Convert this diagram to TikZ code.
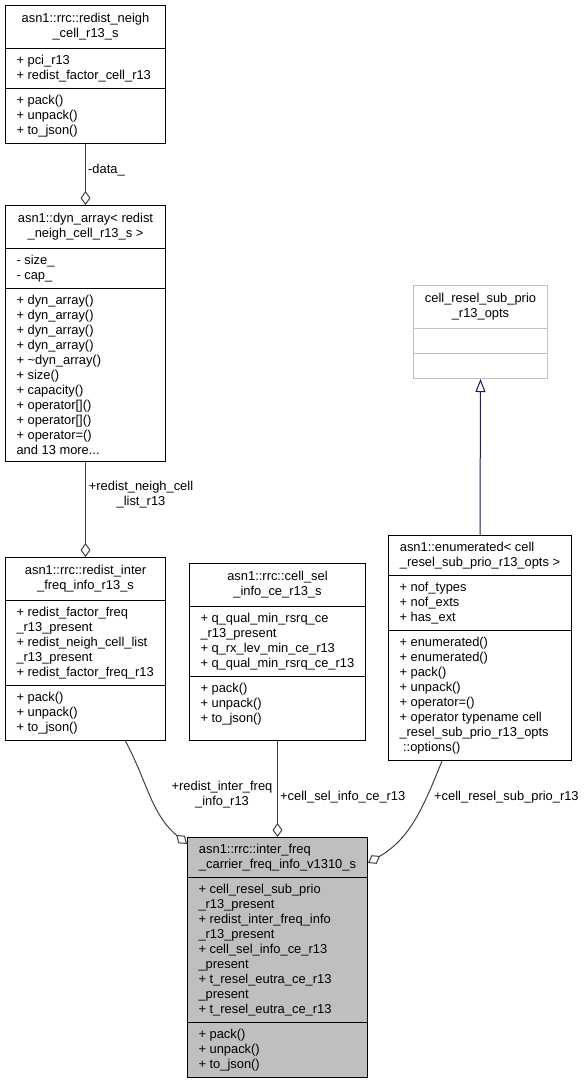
\documentclass[tikz,border=0pt]{standalone}
\usepackage{fontspec}
\setmainfont{Liberation Sans}
\usetikzlibrary{arrows.meta,shapes.multipart,calc}
\definecolor{edgegrey}{HTML}{404040}
\definecolor{inhblue}{HTML}{191970}
\definecolor{paleframe}{HTML}{BFBFBF}
\definecolor{focusfill}{HTML}{BFBFBF}
\newcommand{\cname}[1]{\begin{tabular}{@{}c@{}}#1\end{tabular}}

\begin{document}
\begin{tikzpicture}[x=1pt,y=-1pt,font=\fontsize{12.9}{15}\selectfont,
  cls/.style={draw,rectangle split,rectangle split parts=3,align=left,
    rectangle split part align={center,left,left},anchor=north west,
    inner xsep=11pt,inner ysep=6pt,line width=1pt},
  assoc/.style={draw=edgegrey,line width=1pt,-{Diamond[open,length=14pt,width=10pt]}},
  inh/.style={draw=inhblue,line width=1pt,-{Triangle[open,length=13pt,width=10pt]}},
  lbl/.style={align=center,inner sep=0pt}]
  \useasboundingbox (0,0) rectangle (585,1080);
  \node[cls,minimum width=160pt] (neigh) at (5,5) {\cname{asn1::rrc::redist\_neigh\\\_cell\_r13\_s}\nodepart{second}%
    + pci\_r13\\ + redist\_factor\_cell\_r13\nodepart{third}%
    + pack()\\ + unpack()\\ + to\_json()};
  \node[cls,minimum width=160pt] (dyn) at (5,205) {\cname{asn1::dyn\_array< redist\\\_neigh\_cell\_r13\_s >}\nodepart{second}%
    - size\_\\ - cap\_\nodepart{third}%
    + dyn\_array()\\ + dyn\_array()\\ + dyn\_array()\\ + dyn\_array()\\ + \textasciitilde dyn\_array()\\
    + size()\\ + capacity()\\ + operator[]()\\ + operator[]()\\ + operator=()\\ and 13 more...};
  \node[cls,minimum width=160pt] (redist) at (5,557) {\cname{asn1::rrc::redist\_inter\\\_freq\_info\_r13\_s}\nodepart{second}%
    + redist\_factor\_freq\\ \_r13\_present\\ + redist\_neigh\_cell\_list\\ \_r13\_present\\ + redist\_factor\_freq\_r13\nodepart{third}%
    + pack()\\ + unpack()\\ + to\_json()};
  \node[cls,minimum width=176pt] (cellsel) at (189,563) {\cname{asn1::rrc::cell\_sel\\\_info\_ce\_r13\_s}\nodepart{second}%
    + q\_qual\_min\_rsrq\_ce\\ \_r13\_present\\ + q\_rx\_lev\_min\_ce\_r13\\ + q\_qual\_min\_rsrq\_ce\_r13\nodepart{third}%
    + pack()\\ + unpack()\\ + to\_json()\rule[-12pt]{0pt}{1pt}};
  \node[cls,minimum width=134pt,draw=paleframe] (opts) at (413,285) {\cname{cell\_resel\_sub\_prio\\\_r13\_opts}\nodepart{second}%
    \rule{0pt}{12pt}\nodepart{third}\rule{0pt}{12pt}};
  \node[cls,minimum width=183pt] (enum) at (388,535) {asn1::enumerated< cell\\ \_resel\_sub\_prio\_r13\_opts >\nodepart{second}%
    + nof\_types\\ + nof\_exts\\ + has\_ext\nodepart{third}%
    + enumerated()\\ + enumerated()\\ + pack()\\ + unpack()\\ + operator=()\\ + operator typename cell\\
    \_resel\_sub\_prio\_r13\_opts\\ \ ::options()};
  \node[cls,minimum width=180pt,fill=focusfill] (carrier) at (187,837) {asn1::rrc::inter\_freq\\ \_carrier\_freq\_info\_v1310\_s\nodepart{second}%
    + cell\_resel\_sub\_prio\\ \_r13\_present\\ + redist\_inter\_freq\_info\\ \_r13\_present\\ + cell\_sel\_info\_ce\_r13\\ \_present\\
    + t\_resel\_eutra\_ce\_r13\\ \_present\\ + t\_resel\_eutra\_ce\_r13\nodepart{third}%
    + pack()\\ + unpack()\\ + to\_json()};
  % members
  \draw[assoc] (neigh.south) -- (dyn.north);
  \draw[assoc] (dyn.south) -- (redist.north);
  \draw[assoc] ([xshift=40]redist.south) to[out=-62,in=140] ([yshift=-7]carrier.north west);
  \draw[assoc] (cellsel.south) -- (carrier.north);
  \draw[assoc] ([xshift=-38]enum.south) to[out=-112,in=30] ([yshift=-26]carrier.north east);
  % inheritance
  \draw[inh] (enum.north) -- (opts.south);
  \node[lbl,anchor=west] (ldata) at (88,170) {-data\_};
  \node[lbl] (llist) at (141,495) {+redist\_neigh\_cell\\\_list\_r13};
  \node[lbl] (linfo) at (222,795) {+redist\_inter\_freq\\\_info\_r13};
  \node[lbl,anchor=west] (lsel) at (280,797) {+cell\_sel\_info\_ce\_r13};
  \node[lbl,anchor=west] (lprio) at (434,797) {+cell\_resel\_sub\_prio\_r13};
\end{tikzpicture}
\end{document}
